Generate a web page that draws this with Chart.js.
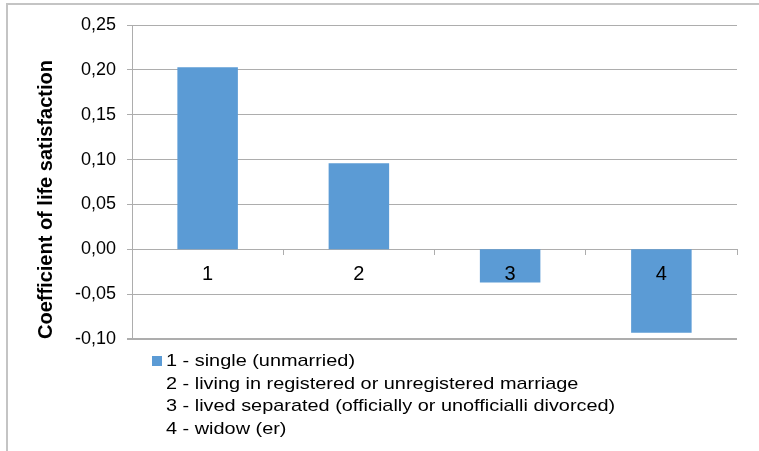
<!DOCTYPE html>
<html>
<head>
<meta charset="utf-8">
<script src="https://cdn.jsdelivr.net/npm/chart.js@4/dist/chart.umd.min.js"></script>
<style>
    html, body { margin: 0; padding: 0; background: #fff; overflow: hidden; }
    #wrap { position: relative; width: 759px; height: 451px; overflow: hidden; }
    #frame { position: absolute; left: 6px; top: 3px; width: 800px; height: 500px; border: 2px solid #c4c4c4; }
    #box { position: absolute; left: 0; top: 0; width: 759px; height: 451px; }
    #legend { position: absolute; left: 152px; top: 350px; font-family: "Liberation Sans", Arial, sans-serif; font-size: 17px; color: #000; }
    #legend .row { position: relative; height: 22.7px; line-height: 22.7px; white-space: nowrap; }
    #legend .sw { position: absolute; left: 0; top: 6px; width: 10px; height: 10px; }
    #legend .txt { position: absolute; left: 14px; top: 0; transform: scaleX(1.17); transform-origin: left center; }
</style>
</head>
<body>
<div id="wrap">
    <div id="frame"></div>
    <div id="box"><canvas id="lifeChart"></canvas></div>
    <div id="legend"></div>
</div>
<script>
// 데이터
const categories = ['1', '2', '3', '4'];
const coefValues = [0.203, 0.096, -0.037, -0.093];
const legendLines = [
    '1 - single (unmarried)',
    '2 - living in registered or unregistered marriage',
    '3 - lived separated (officially or unofficialli divorced)',
    '4 - widow (er)'
];
const yMin = -0.10;
const yMax = 0.25;
const yStep = 0.05;
const axisTitle = 'Coefficient of life satisfaction';

const barColor = '#5b9bd5';
const gridColor = '#adadad';

function fmtComma(v) {
    const r = Math.round(v * 100) / 100;
    return (r === 0 ? 0 : r).toFixed(2).replace('.', ',');
}

// 범례 (첫 줄만 색상 표시)
function renderLegend() {
    const el = document.getElementById('legend');
    legendLines.forEach((text, i) => {
        const row = document.createElement('div');
        row.className = 'row';
        if (i === 0) {
            const sw = document.createElement('div');
            sw.className = 'sw';
            sw.style.background = barColor;
            row.appendChild(sw);
        }
        const t = document.createElement('span');
        t.className = 'txt';
        t.textContent = text;
        row.appendChild(t);
        el.appendChild(row);
    });
}

function renderChart() {
    const ctx = document.getElementById('lifeChart');
    new Chart(ctx, {
        type: 'bar',
        data: {
            labels: categories,
            datasets: [{
                label: legendLines[0],
                data: coefValues,
                backgroundColor: barColor,
                borderWidth: 0,
                barPercentage: 0.4,
                categoryPercentage: 1.0
            }]
        },
        options: {
            responsive: false,
            animation: false,
            layout: {
                padding: { left: 34, right: 22, top: 25, bottom: 112 }
            },
            plugins: {
                legend: { display: false },
                tooltip: { enabled: false }
            },
            scales: {
                x: {
                    position: { y: 0 },
                    grid: {
                        drawOnChartArea: false,
                        drawTicks: true,
                        tickLength: 5,
                        color: gridColor
                    },
                    border: { display: true, color: gridColor, width: 1 },
                    ticks: {
                        z: 1, // 막대 위에 라벨 표시
                        color: '#000',
                        padding: 8,
                        font: { family: '"Liberation Sans", Arial, sans-serif', size: 20 }
                    }
                },
                y: {
                    min: yMin,
                    max: yMax,
                    afterFit: (scale) => { scale.width = 98; },
                    grid: {
                        color: gridColor,
                        tickLength: 5,
                        lineWidth: (c) => (c.tick && Math.abs(c.tick.value - yMin) < 1e-9 ? 2 : 1)
                    },
                    border: { display: true, color: gridColor, width: 1 },
                    ticks: {
                        stepSize: yStep,
                        color: '#000',
                        padding: 11,
                        font: { family: '"Liberation Sans", Arial, sans-serif', size: 18 },
                        callback: (v) => fmtComma(v)
                    },
                    title: {
                        display: true,
                        text: axisTitle,
                        align: 'start',
                        color: '#000',
                        padding: 0,
                        font: { family: '"Liberation Sans", Arial, sans-serif', size: 20, weight: 'bold' }
                    }
                }
            }
        }
    });
}

document.getElementById('lifeChart').width = 759;
document.getElementById('lifeChart').height = 451;
renderLegend();
renderChart();
</script>
</body>
</html>
